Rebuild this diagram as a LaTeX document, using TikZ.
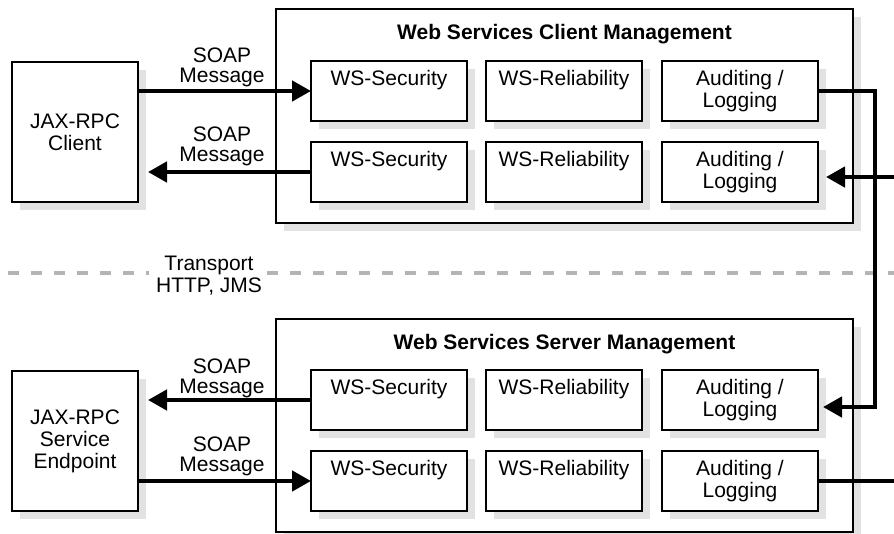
\documentclass[tikz,border=0pt]{standalone}
\usepackage{fontspec}
\setmainfont{Liberation Sans}
\usetikzlibrary{arrows.meta,shadows,calc}
\definecolor{shadowgray}{RGB}{226,226,226}
\definecolor{dashgray}{RGB}{180,180,180}
\begin{document}
\begin{tikzpicture}[x=1pt,y=-1pt,
  every node/.style={outer sep=0pt, font=\fontsize{21}{22}\selectfont},
  box/.style={draw, line width=2.2pt, fill=white,
    drop shadow={shadow xshift=8pt, shadow yshift=-8pt, fill=shadowgray, draw=none, opacity=1}},
  outerbox/.style={box, minimum width=577pt, minimum height=214pt, anchor=north west},
  innerbox/.style={box, minimum width=156pt, minimum height=60pt, anchor=north west,
    align=center, inner ysep=0pt, text height=24pt, text depth=36pt},
  auditbox/.style={innerbox, text height=46pt, text depth=14pt},
  leftbox/.style={box, minimum width=126pt, minimum height=140pt, anchor=north west, align=center},
  titletext/.style={font=\bfseries\fontsize{21}{22}\selectfont, inner sep=0pt, anchor=base},
  lbl/.style={align=center, inner sep=0pt, anchor=south, font=\fontsize{21}{20}\selectfont},
  arr/.style={line width=4.5pt, -{Triangle[length=19pt,width=20pt]}},
  conn/.style={line width=4.5pt},
  transportline/.style={dashgray, line width=4pt, dash pattern=on 11pt off 12pt}
]
\useasboundingbox (0,0) rectangle (894,533);

% outer management boxes
\node[outerbox] (cbox) at (276,9) {};
\node[outerbox, minimum height=213pt] (sbox) at (276,319) {};
\node[titletext] (ctitle) at ([yshift=-30pt]cbox.north) {Web Services Client Management};
\node[titletext] (stitle) at ([yshift=-30pt]sbox.north) {Web Services Server Management};

% client inner boxes
\node[innerbox] (cs1) at (311,61) {WS-Security};
\node[innerbox] (cr1) at (486,61) {WS-Reliability};
\node[auditbox] (ca1) at (662,61) {Auditing /\\Logging};
\node[innerbox] (cs2) at (311,142) {WS-Security};
\node[innerbox] (cr2) at (486,142) {WS-Reliability};
\node[auditbox] (ca2) at (662,142) {Auditing /\\Logging};

% server inner boxes
\node[innerbox] (ss1) at (311,370) {WS-Security};
\node[innerbox] (sr1) at (486,370) {WS-Reliability};
\node[auditbox] (sa1) at (662,370) {Auditing /\\Logging};
\node[innerbox] (ss2) at (311,451) {WS-Security};
\node[innerbox] (sr2) at (486,451) {WS-Reliability};
\node[auditbox] (sa2) at (662,451) {Auditing /\\Logging};

% left boxes
\node[leftbox] (client) at (12,62) {JAX-RPC\\Client};
\node[leftbox] (endpoint) at (12,371) {JAX-RPC\\Service\\Endpoint};

% SOAP arrows
\draw[arr] (client.east |- cs1.west) -- (cs1.west);
\draw[arr] (cs2.west) -- ($(client.east |- cs2.west)+(10,0)$);
\draw[arr] (ss1.west) -- ($(endpoint.east |- ss1.west)+(10,0)$);
\draw[arr] (endpoint.east |- ss2.west) -- (ss2.west);

\node[lbl] (l1) at (222,86.5) {SOAP\\Message};
\node[lbl] (l2) at (222,165.5) {SOAP\\Message};
\node[lbl] (l3) at (222,397.5) {SOAP\\Message};
\node[lbl] (l4) at (222,475.5) {SOAP\\Message};

% transport line
\node[align=center, inner sep=0pt] (transport) at (209,276) {Transport\\HTTP, JMS};
\coordinate (dl) at (8,273);
\coordinate (dr) at (894,273);
\draw[transportline] (dl) -- ($(transport.west |- dl)+(-7,0)$);
\draw[transportline] ($(transport.east |- dl)+(5,0)$) -- (dr);

% right-hand connectors
\coordinate (rx) at (875,0);
\coordinate (redge) at (894,0);
\draw[arr] (ca1.east) -- (ca1.east -| rx) -- ($(sa1.east -| rx)+(0,7)$) -- ($(sa1.east)+(5,7)$);
\draw[arr] ($(ca2.east -| redge)+(0,5)$) -- ($(ca2.east)+(8,5)$);
\draw[conn] (sa2.east) -- (sa2.east -| redge);
\end{tikzpicture}
\end{document}
